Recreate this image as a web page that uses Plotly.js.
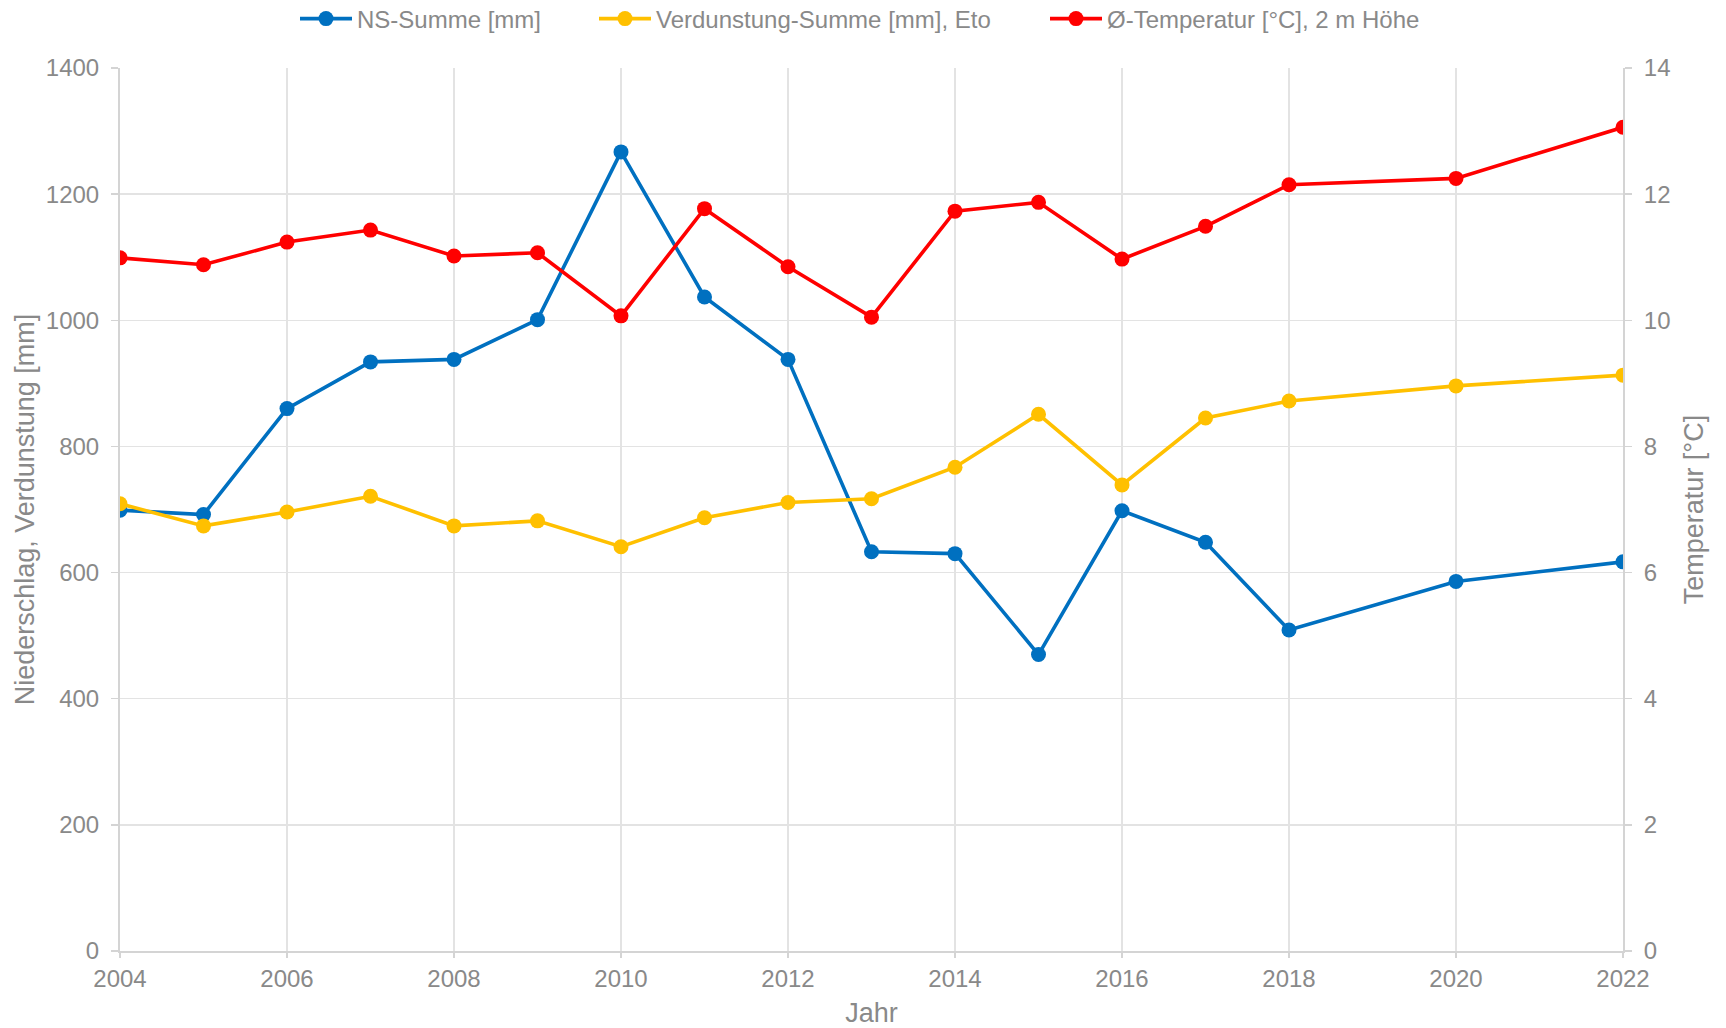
<!DOCTYPE html>
<html>
<head>
<meta charset="utf-8">
<script src="https://cdn.plot.ly/plotly-3.0.1.min.js"></script>
<style>html,body{margin:0;padding:0;background:#fff;}#chart{width:1726px;height:1028px;}</style>
</head>
<body>
<div id="chart"></div>
<script>
const years = [2004, 2005, 2006, 2007, 2008, 2009, 2010, 2011, 2012, 2013, 2014, 2015, 2016, 2017, 2018, 2020, 2022];
const nsSumme = [699, 692, 860, 934, 938, 1001, 1267, 1037, 938, 633, 630, 470, 698, 648, 509, 586, 617];
const verdunstung = [709, 674, 696, 721, 674, 682, 641, 687, 711, 717, 767, 851, 739, 845, 872, 896, 913];
const temperatur = [10.99, 10.88, 11.24, 11.43, 11.02, 11.07, 10.07, 11.77, 10.85, 10.05, 11.73, 11.87, 10.97, 11.49, 12.15, 12.25, 13.06];
const seriesNames = ["NS-Summe [mm]", "Verdunstung-Summe [mm], Eto", "Ø-Temperatur [°C], 2 m Höhe"];

const font = "Liberation Sans, Arial, sans-serif";
const grey = "#898989";

function trace(y, name, color, axis, legend) {
  return {
    x: years, y: y, name: name, type: "scatter", mode: "lines+markers",
    yaxis: axis, legend: legend,
    line: {color: color, width: 3.6},
    marker: {color: color, size: 15},
    hoverinfo: "skip"
  };
}

const data = [
  trace(nsSumme, seriesNames[0], "#0070C0", "y", "legend"),
  trace(verdunstung, seriesNames[1], "#FFC000", "y", "legend2"),
  trace(temperatur, seriesNames[2], "#FF0000", "y2", "legend3")
];

const axisCommon = {
  showline: true, linecolor: "#d4d4d4", linewidth: 2, zeroline: false,
  ticks: "outside", ticklen: 7, tickcolor: "#d4d4d4", tickwidth: 1.5,
  tickfont: {size: 24, color: grey, family: font}
};

function legendAt(px) {
  return {orientation: "h", x: px / 1726, xanchor: "left", xref: "container",
          y: 0.9815, yanchor: "middle", yref: "container",
          font: {size: 24, color: grey, family: font}, itemwidth: 52, bgcolor: "rgba(0,0,0,0)"};
}

const layout = {
  width: 1726, height: 1028,
  margin: {l: 120, r: 103, t: 68, b: 77},
  paper_bgcolor: "#ffffff", plot_bgcolor: "#ffffff",
  font: {family: font, color: grey, size: 24},
  showlegend: true,
  legend: legendAt(295),
  legend2: legendAt(594),
  legend3: legendAt(1045),
  xaxis: Object.assign({}, axisCommon, {
    range: [2004, 2022], dtick: 2, tick0: 2004, showgrid: true, gridcolor: "#e3e3e3", gridwidth: 1.5,
    ticklen: 5, ticklabelstandoff: 0,
    title: {text: "Jahr", font: {size: 27, color: grey, family: font}, standoff: 19}
  }),
  yaxis: Object.assign({}, axisCommon, {
    range: [0, 1400], dtick: 200, showgrid: true, gridcolor: "#e3e3e3", gridwidth: 1.5,
    ticklabelstandoff: 7,
    title: {text: "Niederschlag, Verdunstung [mm]", font: {size: 27, color: grey, family: font}, standoff: 3}
  }),
  yaxis2: Object.assign({}, axisCommon, {
    range: [0, 14], dtick: 2, overlaying: "y", side: "right", showgrid: false,
    ticklabelstandoff: 7,
    title: {text: "Temperatur [°C]", font: {size: 27, color: grey, family: font}, standoff: 15}
  })
};

Plotly.newPlot("chart", data, layout, {displayModeBar: false, staticPlot: true});
</script>
</body>
</html>
